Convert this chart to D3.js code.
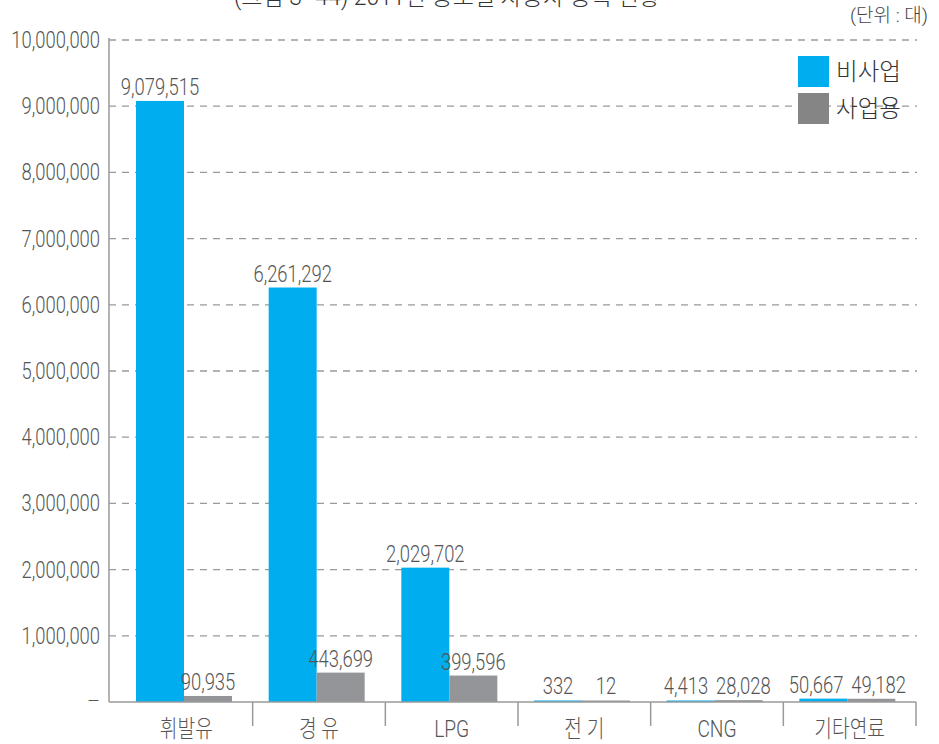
<!DOCTYPE html>
<html><head><meta charset="utf-8">
<script src="https://cdn.jsdelivr.net/npm/d3@7"></script>
<style>
html,body{margin:0;padding:0;background:#fff;}
svg{display:block;}
text{font-family:Roboto,"Noto Sans CJK KR",sans-serif;font-weight:300;}
</style></head>
<body>
<script>
const categories = ["휘발유", "경 유", "LPG", "전 기", "CNG", "기타연료"];
const seriesNames = ["비사업", "사업용"];
const nonBusiness = [9079515, 6261292, 2029702, 332, 4413, 50667];
const business = [90935, 443699, 399596, 12, 28028, 49182];
const yTicks = [0, 1000000, 2000000, 3000000, 4000000, 5000000, 6000000, 7000000, 8000000, 9000000, 10000000];
const titleText = "(그림 3−44) 2011년 용도별 자동차 등록 현황";
const unitText = "(단위 : 대)";

const W = 939, H = 744;
const colors = ["#00aeef", "#939598"];
const legendColors = ["#00aeef", "#858585"];
const fmt = d3.format(",");

const svg = d3.select("body").append("svg").attr("width", W).attr("height", H);

const y = d3.scaleLinear().domain([0, 10000000]).range([702, 40]);
const x = d3.scaleBand().domain(categories).range([120, 916]);
const xi = d3.scaleBand().domain(seriesNames).range([16, 112]);

function label(g, txt, tx, ty, size, sx, anchor, fill) {
  return g.append("text")
    .attr("transform", `translate(${tx},${ty}) scale(${sx},1)`)
    .attr("text-anchor", anchor)
    .attr("font-size", size)
    .attr("fill", fill)
    .text(txt);
}

// title (cut off at top, as in the reference)
label(svg, titleText, 447, 5, 23, 1.0, "middle", "#333");
label(svg, unitText, 928, 22, 19, 1.0, "end", "#444");

// gridlines
svg.append("g").selectAll("line").data(yTicks.filter(d => d > 0)).join("line")
  .attr("x1", 109).attr("x2", 917)
  .attr("y1", d => y(d)).attr("y2", d => y(d))
  .attr("stroke", "#9a9a9a").attr("stroke-width", 1.3)
  .attr("stroke-dasharray", "7,6");

// y tick labels
const yl = svg.append("g");
yTicks.forEach(t => {
  if (t === 0) {
    label(yl, "–", 100, y(t) + 6, 20, 1, "end", "#555");
  } else {
    label(yl, fmt(t), 100, y(t) + 8, 23, 0.8, "end", "#555");
  }
});

// bars
const data = categories.map((c, i) => ({c, vals: [nonBusiness[i], business[i]]}));
const gb = svg.append("g");
data.forEach(d => {
  const labs = [];
  d.vals.forEach((v, j) => {
    const bx = x(d.c) + xi(seriesNames[j]);
    gb.append("rect")
      .attr("x", bx).attr("width", xi.bandwidth())
      .attr("y", Math.min(y(v), 700.5))
      .attr("height", Math.max(702 - y(v), 1.5))
      .attr("fill", colors[j]);
    const cx = bx + xi.bandwidth() / 2;
    const ty = Math.min(y(v), 700) - 6;
    const t = label(gb, fmt(v), cx, ty, 23, 0.8, "middle", "#555");
    labs.push({t, cx, ty, w: t.node().getComputedTextLength() * 0.8});
  });
  // push overlapping labels apart
  const [a, b] = labs;
  if (Math.abs(a.ty - b.ty) < 22) {
    const gap = (b.cx - b.w / 2) - (a.cx + a.w / 2);
    if (gap < 8) {
      const s = (8 - gap) / 2;
      a.t.attr("transform", `translate(${a.cx - s},${a.ty}) scale(0.8,1)`);
      b.t.attr("transform", `translate(${b.cx + s},${b.ty}) scale(0.8,1)`);
    }
  }
});

// axes lines
svg.append("line").attr("x1", 109).attr("x2", 109).attr("y1", 38).attr("y2", 702)
  .attr("stroke", "#9a9a9a").attr("stroke-width", 1.5);
svg.append("line").attr("x1", 109).attr("x2", 916).attr("y1", 702).attr("y2", 702)
  .attr("stroke", "#9a9a9a").attr("stroke-width", 1.5);
// category separator ticks
svg.append("g").selectAll("line").data(categories).join("line")
  .attr("x1", d => x(d) + x.bandwidth()).attr("x2", d => x(d) + x.bandwidth())
  .attr("y1", 702).attr("y2", 726)
  .attr("stroke", "#9a9a9a").attr("stroke-width", 1.5);

// x labels
const xl = svg.append("g");
categories.forEach(c => {
  label(xl, c, x(c) + x.bandwidth() / 2, 737, 24, 0.8, "middle", "#555");
});

// legend
const lg = svg.append("g");
seriesNames.forEach((s, i) => {
  lg.append("rect").attr("x", 798).attr("y", 56 + i * 37).attr("width", 31).attr("height", 31)
    .attr("fill", legendColors[i]);
  label(lg, s, 836, 80 + i * 37, 24, 0.98, "start", "#333");
});
</script>
</body></html>
